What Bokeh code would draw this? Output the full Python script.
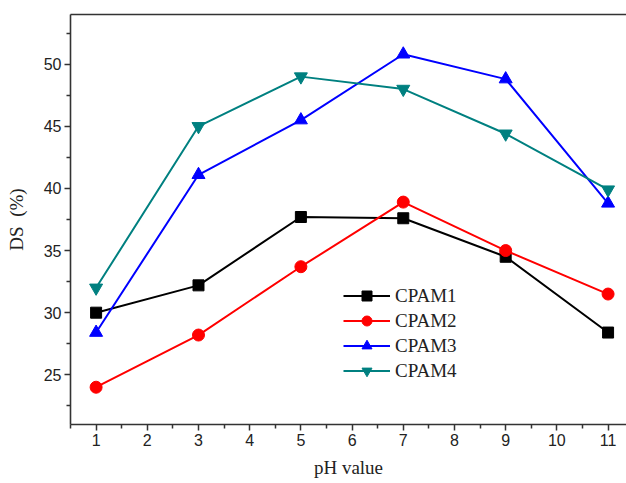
from bokeh.plotting import figure
from bokeh.models import LinearAxis, FixedTicker, Range1d, Legend, LegendItem
from bokeh.embed import file_html
from bokeh.resources import INLINE

ph = [1, 3, 5, 7, 9, 11]
cpam1 = [30.0, 32.2, 37.7, 37.6, 34.5, 28.4]
cpam2 = [24.0, 28.2, 33.7, 38.9, 35.0, 31.5]
cpam3 = [28.4, 41.1, 45.5, 50.8, 48.8, 38.8]
cpam4 = [32.0, 45.0, 49.0, 48.0, 44.4, 39.9]
series_names = ["CPAM1", "CPAM2", "CPAM3", "CPAM4"]
x_ticks = [1, 2, 3, 4, 5, 6, 7, 8, 9, 10, 11]
y_ticks = [25, 30, 35, 40, 45, 50]

AX = "#333333"
p = figure(width=626, height=483, output_backend="svg", toolbar_location=None,
           x_range=Range1d(0.5, 11.36), y_range=Range1d(21, 54),
           min_border_left=70, min_border_top=14, min_border_bottom=59, min_border_right=0)
p.outline_line_color = None
p.xgrid.visible = False
p.ygrid.visible = False
p.background_fill_color = "white"
p.border_fill_color = "white"

for ax in (p.xaxis[0], p.yaxis[0]):
    ax.axis_line_color = AX
    ax.axis_line_width = 1.6
    ax.major_tick_line_color = AX
    ax.minor_tick_line_color = AX
    ax.major_tick_line_width = 1.5
    ax.minor_tick_line_width = 1.5
    ax.major_tick_out = 6
    ax.major_tick_in = 0
    ax.minor_tick_out = 4
    ax.minor_tick_in = 0
    ax.major_label_text_font = "Liberation Sans"
    ax.major_label_text_font_size = "16px"
    ax.major_label_text_color = "#222222"
    ax.axis_label_text_font = "Liberation Serif"
    ax.axis_label_text_font_size = "19px"
    ax.axis_label_text_font_style = "normal"
    ax.axis_label_text_color = "#222222"

p.xaxis.ticker = FixedTicker(ticks=x_ticks, minor_ticks=[t + 0.5 for t in range(0, 12)])
p.yaxis.ticker = FixedTicker(ticks=y_ticks, minor_ticks=[22.5 + 5 * i for i in range(7)])
p.xaxis.axis_label = "pH value"
p.yaxis.axis_label = "DS\u00a0\u00a0(%)"
p.xaxis.major_label_standoff = 3
p.xaxis.axis_label_standoff = 8
p.yaxis.major_label_standoff = 3
p.yaxis.axis_label_standoff = 14

top = LinearAxis(axis_line_color=AX, axis_line_width=1.6, ticker=FixedTicker(ticks=[]),
                 major_tick_line_color=None, minor_tick_line_color=None)
p.add_layout(top, "above")

colors = ["black", "#ff0000", "#0000ff", "#008080"]
markers = ["square", "circle", "triangle", "inverted_triangle"]
sizes = [11, 12, 13, 13]
items = []
for name, ys, c, m, s in zip(series_names, [cpam1, cpam2, cpam3, cpam4], colors, markers, sizes):
    l = p.line(ph, ys, line_color=c, line_width=2)
    sc = p.scatter(ph, ys, marker=m, size=s, fill_color=c, line_color=c)
    items.append(LegendItem(label=name, renderers=[l, sc]))

legend = Legend(items=items, location=(273, 41))
legend.border_line_color = None
legend.background_fill_alpha = 0
legend.padding = 0
legend.margin = 0
legend.spacing = 0
legend.glyph_width = 47
legend.glyph_height = 25
legend.label_height = 25
legend.label_standoff = 5
legend.label_text_font = "Liberation Serif"
legend.label_text_font_size = "19px"
legend.label_text_color = "#222222"
p.add_layout(legend, "center")

open("out.html", "w").write(file_html(p, INLINE))
